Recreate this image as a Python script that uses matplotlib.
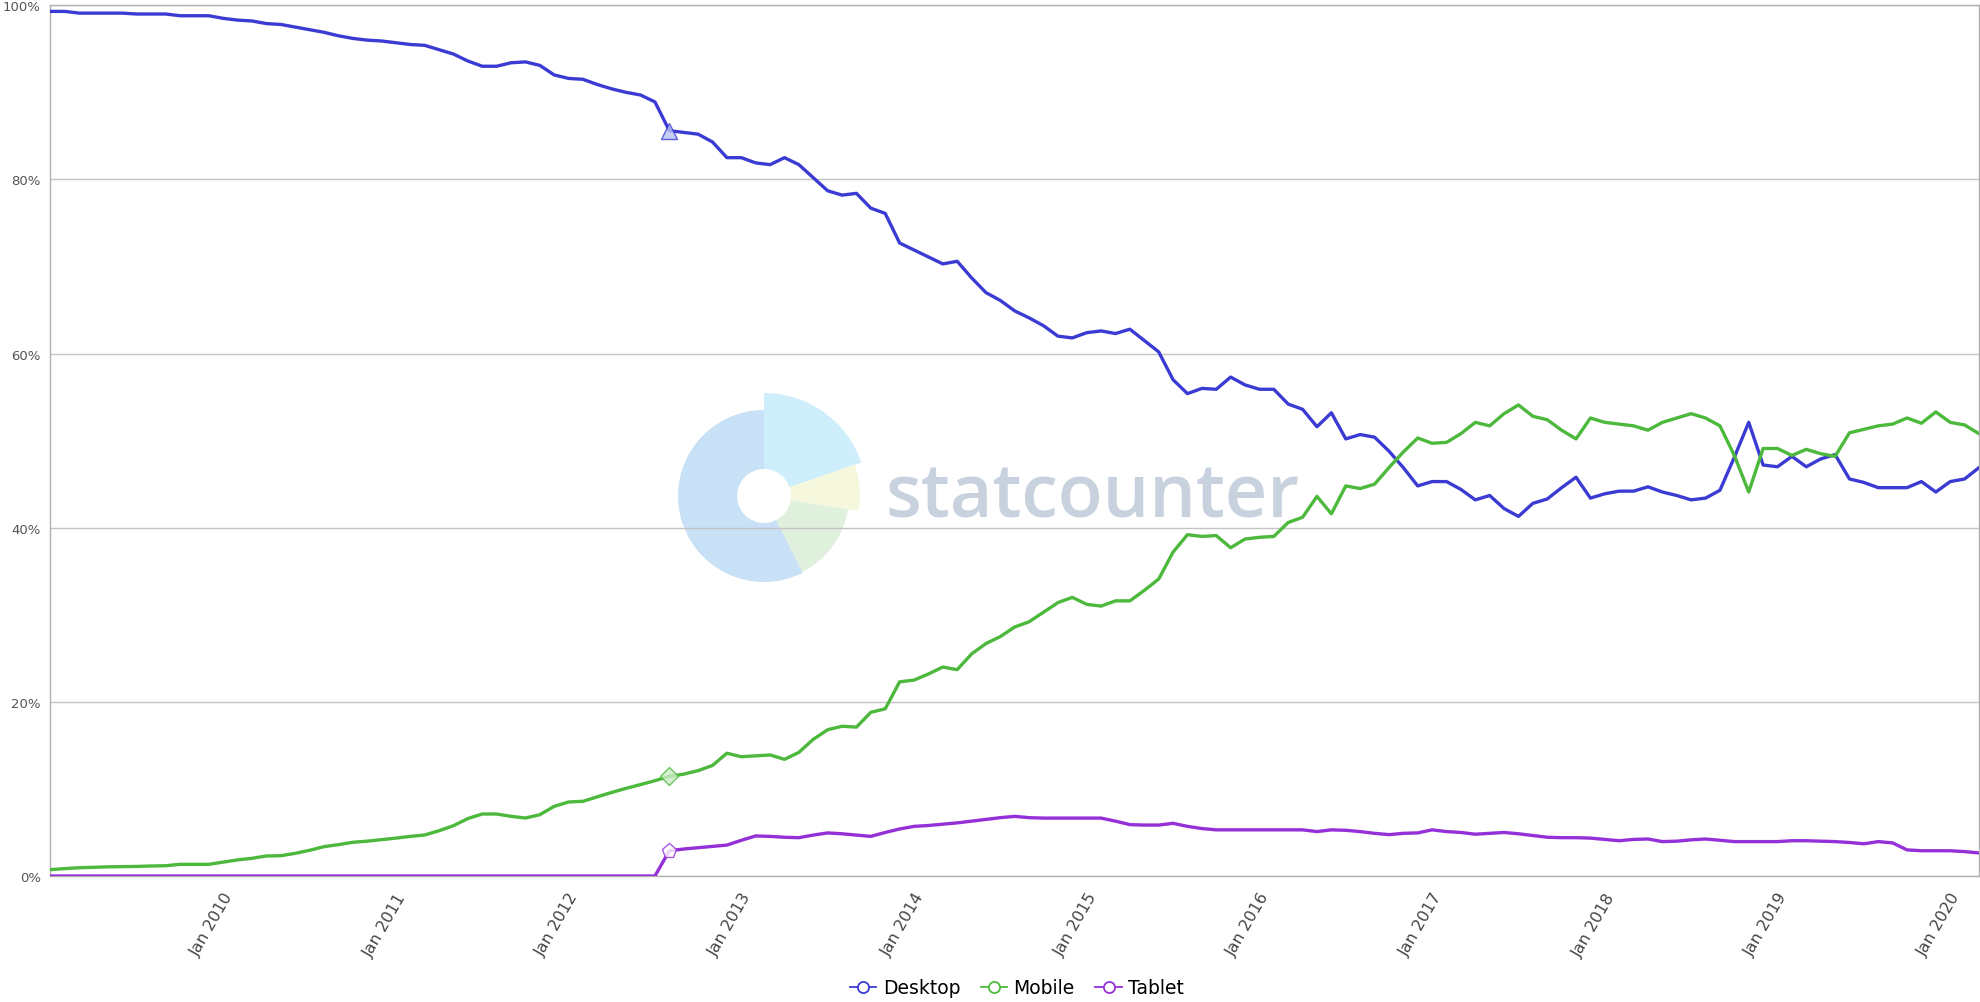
import matplotlib
matplotlib.use("Agg")
import matplotlib.pyplot as plt
from matplotlib.patches import Wedge, Circle
from matplotlib.lines import Line2D
import numpy as np

# Monthly data Jan 2009 .. Mar 2020 (percent share)
desktop = [
    99.3, 99.3, 99.1, 99.1, 99.1, 99.1, 99.0, 99.0, 99.0, 98.8, 98.8, 98.8,
    98.5, 98.3, 98.2, 97.9, 97.8, 97.5, 97.2, 96.9, 96.5, 96.2, 96.0, 95.9,
    95.7, 95.5, 95.4, 94.9, 94.4, 93.6, 93.0, 93.0, 93.4, 93.5, 93.1, 92.0,
    91.6, 91.5, 90.9, 90.4, 90.0, 89.7, 88.9, 85.6, 85.4, 85.2, 84.3, 82.5,
    82.5, 81.9, 81.7, 82.5, 81.7, 80.2, 78.7, 78.2, 78.4, 76.7, 76.1, 72.7,
    71.9, 71.1, 70.3, 70.6, 68.7, 67.0, 66.1, 64.9, 64.1, 63.2, 62.0, 61.8,
    62.4, 62.6, 62.3, 62.8, 61.5, 60.2, 57.0, 55.4, 56.0, 55.9, 57.3, 56.4,
    55.9, 55.9, 54.2, 53.6, 51.6, 53.2, 50.2, 50.7, 50.4, 48.8, 46.9, 44.8,
    45.3, 45.3, 44.4, 43.2, 43.7, 42.2, 41.3, 42.8, 43.3, 44.6, 45.8, 43.4,
    43.9, 44.2, 44.2, 44.7, 44.1, 43.7, 43.2, 43.4, 44.3, 48.1, 52.1, 47.2,
    47.0, 48.2, 47.0, 47.9, 48.4, 45.6, 45.2, 44.6, 44.6, 44.6, 45.3, 44.1,
    45.3, 45.6, 46.9,
]
mobile = [
    0.73, 0.85, 0.95, 1.0, 1.05, 1.07, 1.1, 1.15, 1.18, 1.34, 1.34, 1.34,
    1.6, 1.85, 2.03, 2.3, 2.33, 2.6, 2.95, 3.37, 3.6, 3.87, 4.0, 4.17,
    4.35, 4.55, 4.71, 5.2, 5.78, 6.6, 7.12, 7.12, 6.85, 6.66, 7.04, 8.0,
    8.5, 8.58, 9.1, 9.6, 10.07, 10.5, 10.95, 11.45, 11.7, 12.1, 12.7, 14.1,
    13.7, 13.8, 13.9, 13.4, 14.2, 15.7, 16.8, 17.2, 17.1, 18.8, 19.2, 22.3,
    22.5, 23.2, 24.0, 23.7, 25.5, 26.7, 27.5, 28.6, 29.2, 30.3, 31.4, 32.0,
    31.2, 31.0, 31.6, 31.6, 32.8, 34.1, 37.2, 39.2, 39.0, 39.1, 37.7, 38.7,
    38.9, 39.0, 40.6, 41.2, 43.6, 41.6, 44.8, 44.5, 45.0, 46.9, 48.7, 50.3,
    49.7, 49.8, 50.8, 52.1, 51.7, 53.1, 54.1, 52.8, 52.4, 51.2, 50.2, 52.6,
    52.1, 51.9, 51.7, 51.2, 52.1, 52.6, 53.1, 52.6, 51.7, 48.3, 44.1, 49.1,
    49.1, 48.3, 49.0, 48.5, 48.2, 50.9, 51.3, 51.7, 51.9, 52.6, 52.0, 53.3,
    52.1, 51.8, 50.8,
]
tablet = [0.0] * 43 + [
    2.9, 3.1, 3.25, 3.4, 3.55, 4.1, 4.6, 4.55, 4.45, 4.4, 4.7, 4.95,
    4.85, 4.7, 4.55, 5.0, 5.4, 5.7, 5.8, 5.95, 6.1, 6.3, 6.5, 6.7,
    6.85, 6.7, 6.65, 6.65, 6.65, 6.65, 6.65, 6.3, 5.9, 5.85, 5.85, 6.05,
    5.7, 5.45, 5.3, 5.3, 5.3, 5.3, 5.3, 5.3, 5.3, 5.1, 5.3, 5.25,
    5.1, 4.9, 4.75, 4.9, 4.95, 5.3, 5.1, 5.0, 4.8, 4.9, 5.0, 4.85,
    4.65, 4.45, 4.4, 4.4, 4.35, 4.2, 4.05, 4.2, 4.25, 3.95, 4.0, 4.15,
    4.25, 4.1, 3.95, 3.95, 3.95, 3.95, 4.05, 4.05, 4.0, 3.95, 3.85, 3.7,
    3.95, 3.8, 3.0, 2.9, 2.9, 2.9, 2.8, 2.65,
]
series_names = ["Desktop", "Mobile", "Tablet"]
series_colors = ["#3b3bd4", "#4cb83c", "#9430d8"]
marker_shapes = ["^", "D", "p"]
marker_fill = ["#b8c4f0", "#cdebc6", "#ffffff"]
highlight_index = 43

year_labels = ["Jan 2010", "Jan 2011", "Jan 2012", "Jan 2013", "Jan 2014", "Jan 2015",
               "Jan 2016", "Jan 2017", "Jan 2018", "Jan 2019", "Jan 2020"]
ytick_vals = [0, 20, 40, 60, 80, 100]

W, H = 1981, 1003
fig = plt.figure(figsize=(W / 100, H / 100), dpi=100)
fig.patch.set_facecolor("white")

# watermark (statcounter logo) behind the chart
lcx, lcy = 764, 1003 - 497
R = 115
lax = fig.add_axes([(lcx - R) / W, (lcy - R) / H, 2 * R / W, 2 * R / H], zorder=-2)
lax.set_xlim(-R, R)
lax.set_ylim(-R, R)
lax.set_aspect("equal")
lax.axis("off")
lax.add_patch(Wedge((0, 0), 86, 90, 297, facecolor="#c9e1f6", edgecolor="none"))
lax.add_patch(Wedge((0, 0), 103, 19, 90, facecolor="#cdeefa", edgecolor="none"))
lax.add_patch(Wedge((0, 0), 96, -9, 19, facecolor="#f6f8dd", edgecolor="none"))
lax.add_patch(Wedge((0, 0), 85, -63, -9, facecolor="#dff0dc", edgecolor="none"))
lax.add_patch(Circle((0, 0), 27, facecolor="white", edgecolor="none"))
fig.text(886 / W, 1 - 517 / H, "statcounter", ha="left", va="baseline",
         fontsize=53, fontweight="semibold", family="Open Sans",
         color="#c8d1de", zorder=-1)

left_px, right_px, top_px, bot_px = 50.5, 1979, 6.3, 877
ax = fig.add_axes([left_px / W, 1 - bot_px / H, (right_px - left_px) / W, (bot_px - top_px) / H])
ax.set_facecolor("none")

x = np.arange(len(desktop))
for vals, name, col, mk, mf in zip([desktop, mobile, tablet], series_names,
                                   series_colors, marker_shapes, marker_fill):
    ax.plot(x, vals, color=col, lw=2.4, solid_joinstyle="round", zorder=3)
    ax.plot([x[highlight_index]], [vals[highlight_index]], linestyle="none",
            marker=mk, markersize=11 if mk != "D" else 9, markerfacecolor=mf,
            markeredgecolor=col, markeredgewidth=1.0, zorder=4, alpha=0.8)

ax.set_xlim(0, len(desktop) - 1)
ax.set_ylim(0, 100)
ax.set_yticks(ytick_vals)
ax.set_yticklabels([f"{v}%" for v in ytick_vals], fontsize=9.5, color="#555555")
ax.set_xticks(np.arange(12, 12 * (len(year_labels) + 1), 12))
ax.set_xticklabels(year_labels, rotation=60, ha="right", va="top",
                   rotation_mode="anchor", fontsize=11.5, color="#444444")
ax.tick_params(axis="both", length=0)
ax.tick_params(axis="y", pad=7)
ax.tick_params(axis="x", pad=10)
ax.grid(axis="y", color="#c4c4c4", lw=1.0, zorder=1)
for sp in ax.spines.values():
    sp.set_color("#b0b0b0")
    sp.set_linewidth(1.0)

handles = [Line2D([0], [0], color=c, lw=1.3, marker="o", markersize=8,
                  markerfacecolor="white", markeredgecolor=c, markeredgewidth=1.3)
           for c in series_colors]
fig.legend(handles, series_names, loc="center", bbox_to_anchor=(1017 / W, 1 - 989 / H),
           ncol=3, frameon=False, fontsize=13.5, handlelength=1.4, handletextpad=0.35,
           columnspacing=1.1)

fig.savefig("out.png", dpi=100, facecolor="white")
